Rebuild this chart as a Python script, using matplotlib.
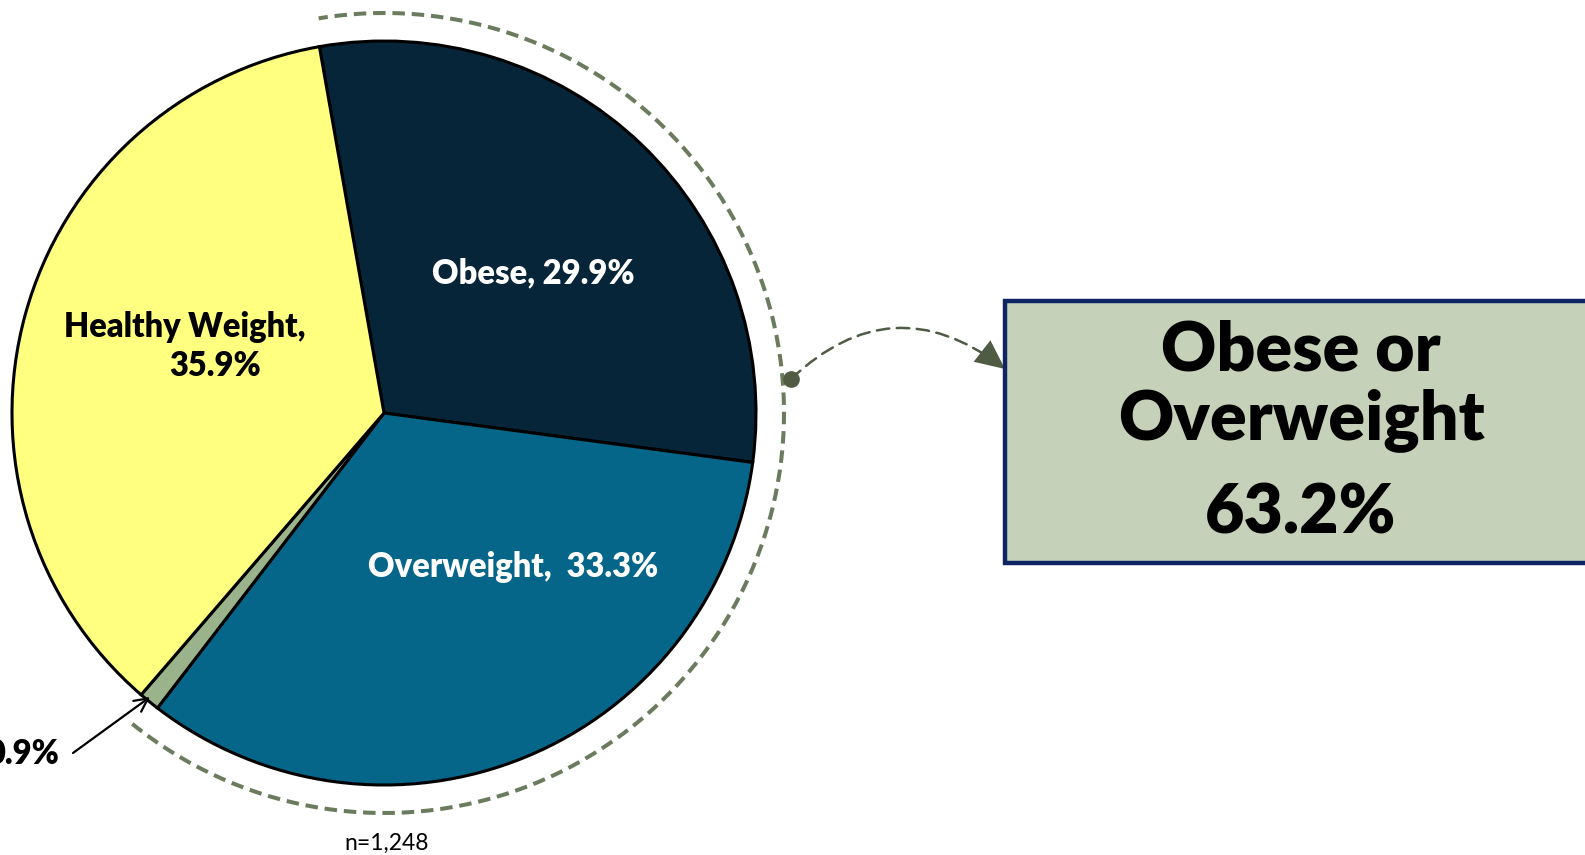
import matplotlib.pyplot as plt
from matplotlib.patches import Arc, Rectangle, FancyArrowPatch

plt.rcParams["font.family"] = ["Lato", "DejaVu Sans"]

# Données (ordre horaire depuis le haut)
categories = ["Obese", "Overweight", "Underweight", "Healthy Weight"]
valeurs = [29.9, 33.3, 0.9, 35.9]
couleurs = ["#062538", "#05668A", "#9BB38A", "#FFFF80"]
total_obese_overweight = 63.2
n_total = 1248

W, H = 1585, 855
fig = plt.figure(figsize=(W / 100, H / 100), dpi=100)
ax = fig.add_axes([0, 0, 1, 1])

cx, cy, r = 384, 442, 372
ax.pie(valeurs, colors=couleurs, startangle=100, counterclock=False,
       center=(cx, cy), radius=r, frame=True,
       wedgeprops=dict(edgecolor="black", linewidth=2.2))
ax.set_xlim(0, W)
ax.set_ylim(0, H)
ax.set_aspect("equal")
ax.axis("off")

# Arc pointillé autour de obèse + surpoids
vert_olive = "#6B7B5E"
arc = Arc((cx, cy), 800, 800, theta1=-129, theta2=99.4, color=vert_olive,
          linewidth=2.9, linestyle=(0, (3.1, 1.7)))
ax.add_patch(arc)

# Flèche courbe vers l'encadré
fleche_col = "#4F5B43"
depart, arrivee = (791, 476), (1005, 486)
ax.add_patch(FancyArrowPatch(depart, arrivee, connectionstyle="arc3,rad=-0.43",
                             arrowstyle="-", color=fleche_col, linewidth=1.8,
                             linestyle=(0, (5, 3)), shrinkA=0, shrinkB=4))
ax.add_patch(FancyArrowPatch(depart, arrivee, connectionstyle="arc3,rad=-0.43",
                             arrowstyle="-|>,head_length=1.5,head_width=0.7",
                             mutation_scale=14, color=fleche_col, linewidth=0,
                             shrinkA=0, shrinkB=0))
ax.plot(*depart, "o", color=fleche_col, markersize=11)

# Encadré
ax.add_patch(Rectangle((1005, 292), 700, 262, facecolor="#C5D2B9",
                       edgecolor="#0F2463", linewidth=3.2, clip_on=True))
ax.text(1301, 485, "Obese or", ha="center", va="baseline", fontsize=49, fontweight="heavy")
ax.text(1301, 416, "Overweight", ha="center", va="baseline", fontsize=49, fontweight="heavy")
ax.text(1301, 322, f"{total_obese_overweight}%", ha="center", va="baseline",
        fontsize=49, fontweight="heavy")

# Étiquettes des parts
taille = 23.5
ax.text(533, 572, f"{categories[0]}, {valeurs[0]}%", ha="center", va="baseline",
        fontsize=taille, fontweight="heavy", color="white")
ax.text(513, 278, f"{categories[1]},  {valeurs[1]}%", ha="center", va="baseline",
        fontsize=taille, fontweight="heavy", color="white")
ax.text(185, 518, f"{categories[3]},", ha="center", va="baseline",
        fontsize=taille, fontweight="heavy", color="black")
ax.text(215, 479, f"{valeurs[3]}%", ha="center", va="baseline",
        fontsize=taille, fontweight="heavy", color="black")
ax.text(59, 91, f"{valeurs[2]}%", ha="right", va="baseline",
        fontsize=taille, fontweight="heavy", color="black")
ax.annotate("", xy=(150, 158), xytext=(73, 102),
            arrowprops=dict(arrowstyle="->", color="black", lw=1.6,
                            mutation_scale=24, shrinkA=0, shrinkB=0))

ax.text(387, 5, f"n={n_total:,}", ha="center", va="baseline", fontsize=16.5)

plt.savefig("out.png", dpi=100)
plt.close()
